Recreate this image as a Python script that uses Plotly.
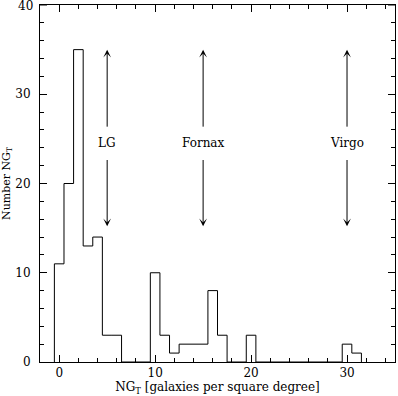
import plotly.graph_objects as go
import numpy as np

# Histogram data: bin centres (width 1) and counts
bin_centers = list(range(0, 32))
counts = [11, 20, 35, 13, 14, 3, 3, 0, 0, 0,
          10, 3, 1, 2, 2, 2, 8, 3, 0, 0,
          3, 0, 0, 0, 0, 0, 0, 0, 0, 0,
          2, 1]

# Cluster markers
cluster_names = ["LG", "Fornax", "Virgo"]
cluster_x = [5, 15, 30]
label_y = 24.5
arrow_up = (26.2, 35.0)
arrow_down = (22.8, 15.2)

x_ticks = [0, 10, 20, 30]
y_ticks = [0, 10, 20, 30, 40]

FONT = "DejaVu Serif"

# Build step outline from data
edges = [c - 0.5 for c in bin_centers] + [bin_centers[-1] + 0.5]
xs, ys = [edges[0]], [0]
for i, c in enumerate(counts):
    xs += [edges[i], edges[i + 1]]
    ys += [c, c]
xs.append(edges[-1]); ys.append(0)

fig = go.Figure()
fig.add_trace(go.Scatter(x=xs, y=ys, mode="lines",
                         line=dict(color="black", width=1),
                         hoverinfo="skip", showlegend=False, cliponaxis=False))

annotations = []
for name, cx in zip(cluster_names, cluster_x):
    annotations.append(dict(x=cx, y=label_y, text=name, showarrow=False,
                            font=dict(family=FONT, size=12, color="black"),
                            xref="x", yref="y"))
    for tail, head in [arrow_up, arrow_down]:
        annotations.append(dict(x=cx, y=head, ax=cx, ay=tail,
                                xref="x", yref="y", axref="x", ayref="y",
                                text="", showarrow=True, arrowhead=3,
                                arrowsize=1.3, arrowwidth=1, arrowcolor="black"))

# top y tick label (plotly hides it at the figure edge), drawn as annotation
top_tick = y_ticks[-1]
annotations.append(dict(x=0, xref="paper", y=top_tick, yref="y", text=str(top_tick),
                        showarrow=False, xanchor="right", yanchor="middle",
                        xshift=-6, yshift=-1, borderpad=0,
                        font=dict(family=FONT, size=12, color="black")))

axis_common = dict(showline=True, linecolor="black", linewidth=1, mirror="allticks",
                   ticks="inside", ticklen=7, tickwidth=1, tickcolor="black",
                   showgrid=False, zeroline=False, automargin=False,
                   tickfont=dict(family=FONT, size=12, color="black"))

fig.update_layout(
    width=398, height=396,
    margin=dict(l=40, r=3, t=5, b=34),
    paper_bgcolor="white", plot_bgcolor="white",
    annotations=annotations,
    xaxis=dict(range=[-2, 35], tickvals=x_ticks,
               minor=dict(dtick=2, tick0=0, ticks="inside", ticklen=4, tickcolor="black"),
               title=dict(text="NG<sub>T</sub> [galaxies per square degree]",
                          font=dict(family=FONT, size=12, color="black"), standoff=1),
               **axis_common),
    yaxis=dict(range=[0, 40], tickvals=y_ticks[:-1],
               minor=dict(dtick=2, tick0=0, ticks="inside", ticklen=4, tickcolor="black"),
               title=dict(text="Number NG<sub>T</sub>",
                          font=dict(family=FONT, size=11, color="black"), standoff=4),
               ticklabelstandoff=6,
               **axis_common),
)
# keep the major tick mark at the top of the y axis
fig.add_shape(type="line", xref="paper", yref="y", x0=0, x1=7 / 355, y0=top_tick, y1=top_tick,
              line=dict(color="black", width=1))
fig.add_shape(type="line", xref="paper", yref="y", x0=1 - 7 / 355, x1=1, y0=top_tick, y1=top_tick,
              line=dict(color="black", width=1))

fig.write_html("out.html", config={"displayModeBar": False},
               post_script="document.body.style.margin='0';document.body.style.overflow='hidden';")
